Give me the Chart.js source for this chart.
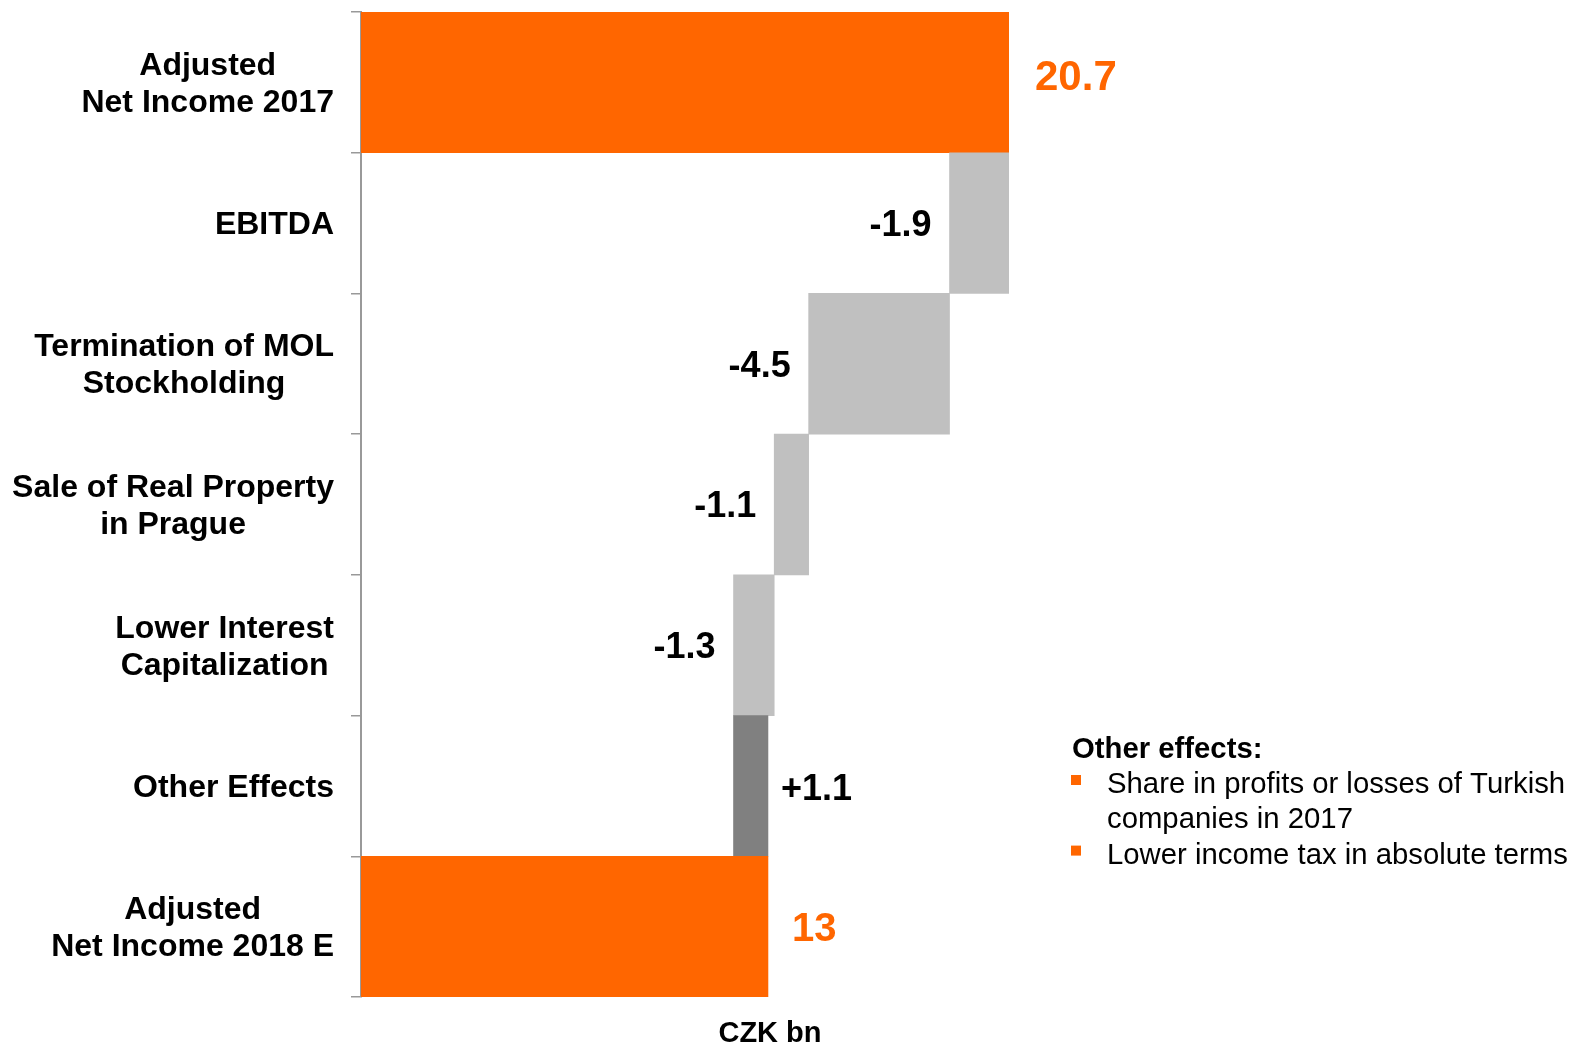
<!DOCTYPE html>
<html>
<head>
<meta charset="utf-8">
<script src="https://cdn.jsdelivr.net/npm/chart.js@4.4.0/dist/chart.umd.min.js"></script>
<style>
  html, body { margin: 0; padding: 0; background: #fff; }
  #wrap { width: 1575px; height: 1043px; position: relative; }
</style>
</head>
<body>
<div id="wrap"><canvas id="chart"></canvas></div>
<script>
// categories (multi-line labels)
const categories = [
  ['Adjusted', 'Net Income 2017'],
  ['EBITDA'],
  ['Termination of MOL', 'Stockholding'],
  ['Sale of Real Property', 'in Prague'],
  ['Lower Interest', 'Capitalization'],
  ['Other Effects'],
  ['Adjusted', 'Net Income 2018 E'],
];
// start total, the bridge steps, end total
const startValue = 20.7;
const deltas = [-1.9, -4.5, -1.1, -1.3, 1.1];
const endValue = 13;
const unitLabel = 'CZK bn';
const noteTitle = 'Other effects:';
const noteItems = [
  ['Share in profits or losses of Turkish', 'companies in 2017'],
  ['Lower income tax in absolute terms'],
];

const ORANGE = '#ff6600';
const LIGHT = '#c0c0c0';
const DARK = '#808080';
const FONT = '"Liberation Sans", Arial, sans-serif';

// build floating bars
const bars = [[0, startValue]];
const colors = [ORANGE];
const valueText = [String(startValue)];
let running = startValue;
deltas.forEach(d => {
  const next = Math.round((running + d) * 10) / 10;
  bars.push([Math.min(running, next), Math.max(running, next)]);
  colors.push(d < 0 ? LIGHT : DARK);
  valueText.push((d > 0 ? '+' : '') + d.toFixed(1));
  running = next;
});
bars.push([0, endValue]);
colors.push(ORANGE);
valueText.push(String(endValue));

const categoryLabels = {
  id: 'categoryLabels',
  afterDraw(chart) {
    const ctx = chart.ctx;
    const y = chart.scales.y;
    const rightEdge = 334;
    const lineH = 37;
    ctx.save();
    ctx.font = 'bold 32px ' + FONT;
    ctx.fillStyle = '#000';
    ctx.textAlign = 'center';
    ctx.textBaseline = 'middle';
    categories.forEach((lines, i) => {
      const maxW = Math.max(...lines.map(l => ctx.measureText(l).width));
      const cx = rightEdge - maxW / 2;
      const cy = y.getPixelForValue(i) + 2;
      const top = cy - (lines.length - 1) * lineH / 2;
      lines.forEach((l, k) => ctx.fillText(l, cx, top + k * lineH));
    });
    ctx.restore();
  }
};

const valueLabels = {
  id: 'valueLabels',
  afterDatasetsDraw(chart) {
    const ctx = chart.ctx;
    const meta = chart.getDatasetMeta(0);
    const last = meta.data.length - 1;
    ctx.save();
    ctx.textBaseline = 'middle';
    meta.data.forEach((bar, i) => {
      const left = Math.min(bar.x, bar.base);
      const right = Math.max(bar.x, bar.base);
      if (i === 0 || i === last) {
        ctx.font = 'bold ' + (i === 0 ? 42 : 40) + 'px ' + FONT;
        ctx.fillStyle = ORANGE;
        ctx.textAlign = 'left';
        ctx.fillText(valueText[i], right + (i === 0 ? 26 : 24), bar.y + (i === 0 ? -4 : 3));
      } else if (deltas[i - 1] < 0) {
        ctx.font = 'bold 36px ' + FONT;
        ctx.fillStyle = '#000';
        ctx.textAlign = 'right';
        ctx.fillText(valueText[i], left - 18, bar.y + 3);
      } else {
        ctx.font = 'bold 36px ' + FONT;
        ctx.fillStyle = '#000';
        ctx.textAlign = 'left';
        ctx.fillText(valueText[i], right + 13, bar.y + 4);
      }
    });
    ctx.restore();
  }
};

const extraText = {
  id: 'extraText',
  afterDraw(chart) {
    const ctx = chart.ctx;
    ctx.save();
    ctx.textBaseline = 'middle';
    ctx.fillStyle = '#000';
    ctx.font = 'bold 29px ' + FONT;
    ctx.textAlign = 'center';
    ctx.fillText(unitLabel, 770, 1034);

    ctx.textAlign = 'left';
    ctx.font = 'bold 29.3px ' + FONT;
    ctx.fillText(noteTitle, 1072, 750);
    ctx.font = '29.3px ' + FONT;
    let yy = 785;
    noteItems.forEach(lines => {
      ctx.fillStyle = ORANGE;
      ctx.fillRect(1071, yy - 10, 10, 10);
      ctx.fillStyle = '#000';
      lines.forEach(l => {
        ctx.fillText(l, 1107, yy);
        yy += 35.3;
      });
    });
    ctx.restore();
  }
};

new Chart(document.getElementById('chart'), {
  type: 'bar',
  data: {
    labels: categories.map(c => c.join(' ')),
    datasets: [{
      data: bars,
      backgroundColor: colors,
      borderWidth: 0,
      barPercentage: 1,
      categoryPercentage: 1,
    }]
  },
  options: {
    indexAxis: 'y',
    responsive: true,
    maintainAspectRatio: false,
    animation: false,
    layout: { padding: { top: 12, bottom: 46, right: 566, left: 0 } },
    plugins: {
      legend: { display: false },
      tooltip: { enabled: false },
    },
    scales: {
      x: {
        display: false,
        min: 0,
        max: startValue,
      },
      y: {
        afterFit(scale) { scale.width = 361; },
        ticks: { display: false },
        grid: {
          offset: true,
          drawOnChartArea: false,
          drawTicks: true,
          tickLength: 10,
          color: '#999',
          lineWidth: 1.5,
        },
        border: { display: true, color: '#999', width: 2 },
      }
    }
  },
  plugins: [categoryLabels, valueLabels, extraText]
});
</script>
</body>
</html>
